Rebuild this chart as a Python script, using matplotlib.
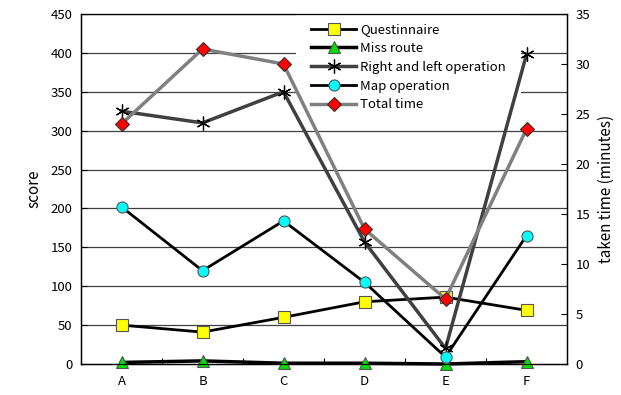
import matplotlib.pyplot as plt

plt.rcParams['font.family'] = ['Noto Sans CJK JP', 'DejaVu Sans']

categories = ['A', 'B', 'C', 'D', 'E', 'F']
questinnaire = [50, 41, 60, 80, 86, 69]
miss_route = [2, 4, 1, 1, 0, 3]
right_left = [325, 310, 350, 157, 20, 398]
map_operation = [202, 120, 184, 105, 9, 165]
total_time = [24, 31.5, 30, 13.5, 6.5, 23.5]

fig = plt.figure(figsize=(6.21, 3.95), dpi=100)
ax = fig.add_axes([81 / 621, 31 / 395, 486 / 621, 350 / 395])
ax2 = ax.twinx()

x = list(range(len(categories)))

# gridlines for the score axis
for v in range(50, 451, 50):
    ax.axhline(v, color='#404040', lw=0.9, zorder=1)

h1, = ax.plot(x, questinnaire, color='black', lw=2, marker='s', ms=8,
              mfc='#ffff00', mec='#555555', mew=0.8, zorder=4, clip_on=False)
h2, = ax.plot(x, miss_route, color='black', lw=2.5, marker='^', ms=8,
              mfc='#00dd00', mec='#555555', mew=0.8, zorder=4, clip_on=False)
h3, = ax.plot(x, right_left, color='#404040', lw=2.5, marker=(6, 2, 0), ms=10,
              mec='black', mew=0.9, zorder=4, clip_on=False)
h4, = ax.plot(x, map_operation, color='black', lw=2, marker='o', ms=8,
              mfc='#00ffff', mec='#555555', mew=0.8, zorder=4, clip_on=False)
h5, = ax2.plot(x, total_time, color='#808080', lw=2.5, marker='D', ms=7.5,
               mfc='#ff0000', mec='#333333', mew=0.8, zorder=4, clip_on=False)

ax.set_xlim(-0.5, 5.5)
ax.set_ylim(0, 450)
ax2.set_ylim(0, 35)
ax.set_yticks(range(0, 451, 50))
ax2.set_yticks(range(0, 36, 5))
ax.set_xticks(x)
ax.set_xticklabels(categories)
ax.set_xticks([i + 0.5 for i in range(5)], minor=True)
ax.tick_params(axis='x', which='major', length=0, pad=8, labelsize=9.5)
ax.tick_params(axis='x', which='minor', direction='in', length=4, width=0.8)
ax.tick_params(axis='y', direction='in', length=4, labelsize=9.5, pad=6)
ax2.tick_params(axis='y', direction='in', length=4, labelsize=9.5, pad=6)

ax.set_ylabel('score', fontsize=11, labelpad=6)
ax2.set_ylabel('taken time (minutes)', fontsize=11, labelpad=6)

for sp in ax.spines.values():
    sp.set_color('black')
    sp.set_linewidth(1)
ax.spines['top'].set_color('#808080')

leg = ax.legend([h1, h2, h3, h4, h5],
                ['Questinnaire', 'Miss route', 'Right and left operation',
                 'Map operation', 'Total time'],
                loc='upper left', bbox_to_anchor=(296 / 621, 1 - 8 / 395),
                bbox_transform=fig.transFigure, frameon=True, fancybox=False,
                edgecolor='none', facecolor='white', framealpha=1,
                fontsize=9.5, handlelength=3.4, handletextpad=0.3,
                labelspacing=0.44, borderpad=1.15, borderaxespad=0)
leg.set_zorder(2)

fig.savefig('out.png', dpi=100)
